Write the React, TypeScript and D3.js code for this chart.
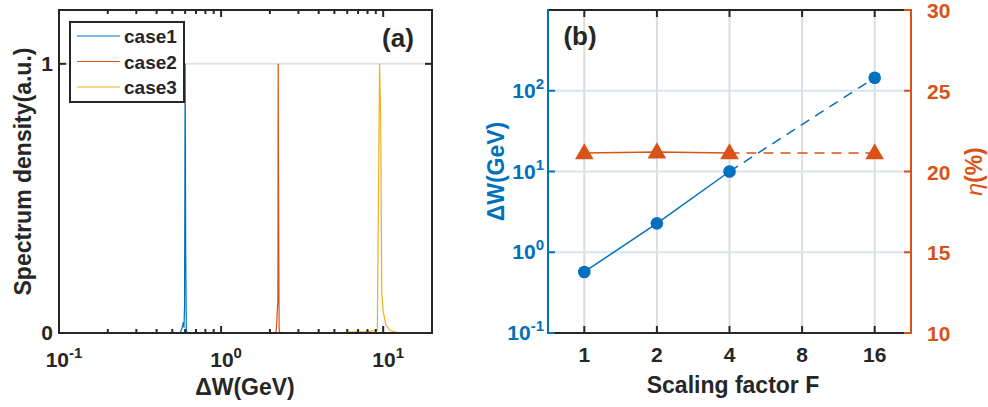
import * as d3 from "d3";

const FONT = "'Liberation Sans', Arial, Helvetica, sans-serif";
const BLUE = "#0072BD";
const ORANGE = "#D95319";
const YELLOW = "#EDB120";
const AXIS = "#262626";

// panel (a) spectra
const case1X = [0.56, 0.575, 0.585, 0.59, 0.595, 0.6, 0.605, 0.61, 0.62];
const case1Y = [0, 0.02, 0.04, 0.02, 0.1, 1, 0.3, 0.01, 0];
const case2X = [2.18, 2.2, 2.22, 2.24, 2.25, 2.26, 2.28, 2.3];
const case2Y = [0, 0.03, 0.08, 0.12, 1, 0.6, 0.02, 0];
const case3X = [6, 8, 9.2, 9.35, 9.5, 9.65, 9.8, 10.0, 10.4, 11, 12.5];
const case3Y = [0.003, 0.005, 0.01, 0.5, 1, 0.8, 0.15, 0.08, 0.03, 0.01, 0];
const caseNames = ["case1", "case2", "case3"];
const caseColors = [BLUE, ORANGE, YELLOW];

// panel (b)
const factorTicks = [1, 2, 4, 8, 16];
const factorPts = [1, 2, 4, 16];
const deltaW = [0.57, 2.28, 10, 145];
const eta = [21.15, 21.2, 21.15, 21.15];
const etaTicks = [10, 15, 20, 25, 30];
const dwTicks = [0.1, 1, 10, 100];

const xA = d3.scaleLog().domain([0.1, 20]).range([59, 432]);
const yA = d3.scaleLinear().domain([0, 1.2]).range([333, 10]);

const xB = d3.scaleLog().base(2).domain([Math.pow(2, -0.5), Math.pow(2, 4.5)]).range([548, 911]);
const yBL = d3.scaleLog().domain([0.1, 1000]).range([333, 10]);
const yBR = d3.scaleLinear().domain([10, 30]).range([333, 10]);

function Pow({ x, y, base, exp, fill = AXIS, anchor = "middle" }: any) {
  return (
    <text x={x} y={y} textAnchor={anchor} fill={fill} fontSize={21} fontWeight="bold" fontFamily={FONT}>
      <tspan>{base}</tspan>
      <tspan dy={-9} fontSize={15}>{exp}</tspan>
    </text>
  );
}

function PanelA() {
  const line = d3
    .line<[number, number]>()
    .x((d) => xA(d[0]))
    .y((d) => yA(d[1]));
  const cases = [
    case1X.map((x, i) => [x, case1Y[i]] as [number, number]),
    case2X.map((x, i) => [x, case2Y[i]] as [number, number]),
    case3X.map((x, i) => [x, case3Y[i]] as [number, number]),
  ];
  const [x0, x1] = xA.range();
  const [y0, y1] = yA.range();
  const minor = xA.ticks();
  const major = [0.1, 1, 10];
  return (
    <g>
      <line x1={x0} x2={x1} y1={yA(1)} y2={yA(1)} stroke="#e3e3e3" strokeWidth={2} />
      {cases.map((c, i) => (
        <path key={i} d={line(c) || ""} fill="none" stroke={caseColors[i]} strokeWidth={1.2} />
      ))}
      {minor.map((t) => {
        const len = major.includes(t) ? 7 : 4;
        return (
          <g key={t}>
            <line x1={xA(t)} x2={xA(t)} y1={y0} y2={y0 - len} stroke={AXIS} strokeWidth={2} />
            <line x1={xA(t)} x2={xA(t)} y1={y1} y2={y1 + len} stroke={AXIS} strokeWidth={2} />
          </g>
        );
      })}
      {[0, 1].map((t) => (
        <g key={t}>
          <line x1={x0} x2={x0 + 7} y1={yA(t)} y2={yA(t)} stroke={AXIS} strokeWidth={2} />
          <line x1={x1} x2={x1 - 7} y1={yA(t)} y2={yA(t)} stroke={AXIS} strokeWidth={2} />
          <text x={53} y={yA(t) + 7} textAnchor="end" fontSize={21} fontWeight="bold" fontFamily={FONT} fill={AXIS}>
            {t}
          </text>
        </g>
      ))}
      <rect x={x0} y={y1} width={x1 - x0} height={y0 - y1} fill="none" stroke={AXIS} strokeWidth={2} />
      {major.map((t, i) => (
        <Pow key={t} x={xA(t) + 5} y={367} base="10" exp={["-1", "0", "1"][i]} />
      ))}
      <text x={245} y={395} textAnchor="middle" fontSize={23} fontWeight="bold" fontFamily={FONT} fill={AXIS}>
        ΔW(GeV)
      </text>
      <text
        transform={`translate(31,${(y0 + y1) / 2}) rotate(-90)`}
        textAnchor="middle"
        fontSize={23}
        fontWeight="bold"
        fontFamily={FONT}
        fill={AXIS}
      >
        Spectrum density(a.u.)
      </text>
      <text x={398} y={47} textAnchor="middle" fontSize={26} fontWeight="bold" fontFamily={FONT} fill={AXIS}>
        (a)
      </text>
      <rect x={70} y={22} width={114} height={80} fill="#fff" stroke={AXIS} strokeWidth={2} />
      {caseNames.map((n, i) => (
        <g key={n}>
          <line x1={77} x2={120} y1={36 + i * 25.5} y2={36 + i * 25.5} stroke={caseColors[i]} strokeWidth={1.2} />
          <text x={124} y={36 + i * 25.5 + 7} fontSize={19} fontWeight="bold" fontFamily={FONT} fill={AXIS}>
            {n}
          </text>
        </g>
      ))}
    </g>
  );
}

function PanelB() {
  const [x0, x1] = xB.range();
  const [y0, y1] = yBL.range();
  const lineW = d3
    .line<number>()
    .x((_, i) => xB(factorPts[i]))
    .y((d) => yBL(d));
  const lineE = d3
    .line<number>()
    .x((_, i) => xB(factorPts[i]))
    .y((d) => yBR(d));
  const tri = d3.symbol().type(d3.symbolTriangle).size(150);
  return (
    <g>
      {factorTicks.map((t) => (
        <line key={t} x1={xB(t)} x2={xB(t)} y1={y0} y2={y1} stroke="#dcdcdc" strokeWidth={2} />
      ))}
      {dwTicks.slice(1).map((t) => (
        <line key={t} x1={x0} x2={x1} y1={yBL(t)} y2={yBL(t)} stroke="#d6e4f0" strokeWidth={2} />
      ))}
      <path d={lineW(deltaW.slice(0, 3)) || ""} fill="none" stroke={BLUE} strokeWidth={1.5} />
      <line
        x1={xB(factorPts[2])}
        y1={yBL(deltaW[2])}
        x2={xB(factorPts[3])}
        y2={yBL(deltaW[3])}
        stroke={BLUE}
        strokeWidth={1.5}
        strokeDasharray="10 7"
      />
      <path d={lineE(eta.slice(0, 3)) || ""} fill="none" stroke={ORANGE} strokeWidth={1.5} />
      <line
        x1={xB(factorPts[2])}
        y1={yBR(eta[2])}
        x2={xB(factorPts[3])}
        y2={yBR(eta[3])}
        stroke={ORANGE}
        strokeWidth={1.5}
        strokeDasharray="10 7"
      />
      {deltaW.map((d, i) => (
        <circle key={i} cx={xB(factorPts[i])} cy={yBL(d)} r={6.3} fill={BLUE} />
      ))}
      {eta.map((d, i) => (
        <path key={i} d={tri() || ""} transform={`translate(${xB(factorPts[i])},${yBR(d) + 1})`} fill={ORANGE} />
      ))}
      {/* x ticks */}
      {factorTicks.map((t) => (
        <g key={t}>
          <line x1={xB(t)} x2={xB(t)} y1={y0} y2={y0 - 7} stroke={AXIS} strokeWidth={2} />
          <line x1={xB(t)} x2={xB(t)} y1={y1} y2={y1 + 7} stroke={AXIS} strokeWidth={2} />
          <text x={xB(t)} y={362} textAnchor="middle" fontSize={21} fontWeight="bold" fontFamily={FONT} fill={AXIS}>
            {t}
          </text>
        </g>
      ))}
      <line x1={x0} x2={x1} y1={y0} y2={y0} stroke={AXIS} strokeWidth={2} />
      <line x1={x0} x2={x1} y1={y1} y2={y1} stroke={AXIS} strokeWidth={2} />
      {/* left axis */}
      <line x1={x0} x2={x0} y1={y0 + 1} y2={y1 - 1} stroke={BLUE} strokeWidth={2} />
      {dwTicks.map((t, i) => (
        <g key={t}>
          <line x1={x0} x2={x0 + 7} y1={yBL(t)} y2={yBL(t)} stroke={BLUE} strokeWidth={2} />
          <Pow x={544} y={yBL(t) + 7} base="10" exp={["-1", "0", "1", "2"][i]} fill={BLUE} anchor="end" />
        </g>
      ))}
      {/* right axis */}
      <line x1={x1} x2={x1} y1={y0 + 1} y2={y1 - 1} stroke={ORANGE} strokeWidth={2} />
      {etaTicks.map((t) => (
        <g key={t}>
          <line x1={x1} x2={x1 - 7} y1={yBR(t)} y2={yBR(t)} stroke={ORANGE} strokeWidth={2} />
          <text x={x1 + 16} y={yBR(t) + 8} fontSize={21} fontWeight="bold" fontFamily={FONT} fill={ORANGE}>
            {t}
          </text>
        </g>
      ))}
      <text x={733} y={393} textAnchor="middle" fontSize={23} fontWeight="bold" fontFamily={FONT} fill={AXIS}>
        Scaling factor F
      </text>
      <text
        transform={`translate(504,${(y0 + y1) / 2}) rotate(-90)`}
        textAnchor="middle"
        fontSize={23}
        fontWeight="bold"
        fontFamily={FONT}
        fill={BLUE}
      >
        ΔW(GeV)
      </text>
      <text
        transform={`translate(982,${(y0 + y1) / 2}) rotate(-90)`}
        textAnchor="middle"
        fontSize={23}
        fontWeight="bold"
        fontFamily={FONT}
        fill={ORANGE}
      >
        <tspan fontStyle="italic" fontWeight="normal">η</tspan>(%)
      </text>
      <text x={580} y={45} textAnchor="middle" fontSize={26} fontWeight="bold" fontFamily={FONT} fill={AXIS}>
        (b)
      </text>
    </g>
  );
}

export default function App() {
  return (
    <svg
      width={988}
      height={407}
      viewBox="0 0 988 407"
      style={{ position: "absolute", left: 0, top: 0, background: "#fff" }}
    >
      <rect width={988} height={407} fill="#fff" />
      <PanelA />
      <PanelB />
    </svg>
  );
}
